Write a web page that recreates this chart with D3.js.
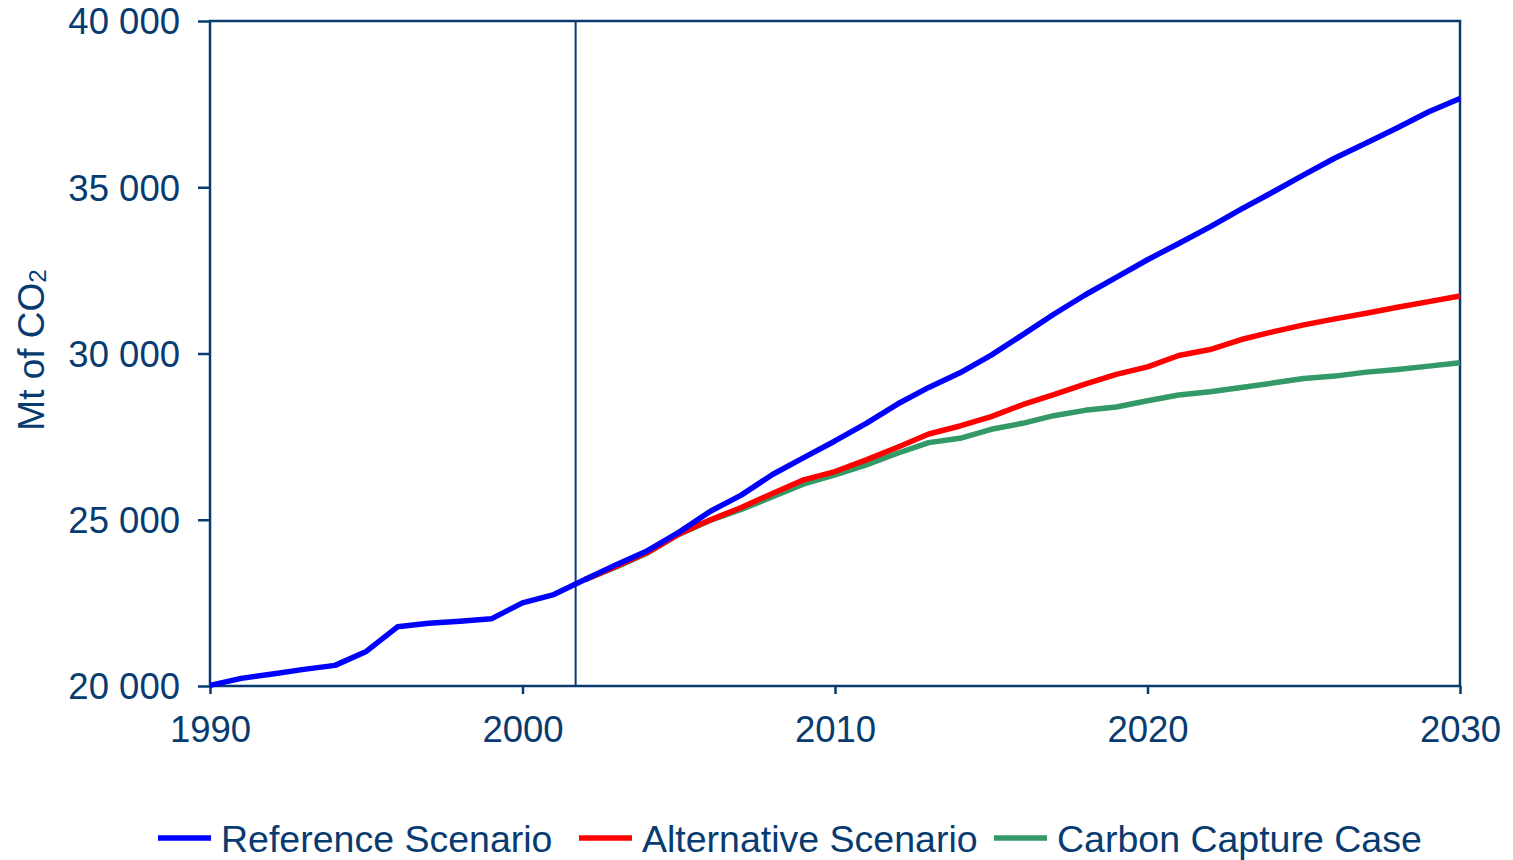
<!DOCTYPE html>
<html>
<head>
<meta charset="utf-8">
<script src="https://cdn.jsdelivr.net/npm/d3@7"></script>
<style>
body { margin: 0; background: #fff; }
text { font-family: "Liberation Sans", Arial, sans-serif; }
</style>
</head>
<body>
<div id="chart"></div>
<script>
// years and series (Mt of CO2)
const years = d3.range(1990, 2031);
const yearTicks = [1990, 2000, 2010, 2020, 2030];
const valueTicks = [20000, 25000, 30000, 35000, 40000];

const referenceScenario = [
    20020, 20230, 20360, 20500, 20620, 21040, 21780, 21890, 21950, 22020,
    22500, 22750, 23200, 23650, 24070, 24620, 25250, 25740, 26360, 26870,
    27370, 27900, 28480, 28980, 29420, 29950, 30560, 31180, 31760, 32290,
    32820, 33310, 33810, 34340, 34850, 35370, 35880, 36330, 36790, 37270,
    37670
];
// projections start in 2002
const projStart = 2002;
const alternativeScenario = [
    23200, 23600, 24020, 24570, 24990, 25370, 25790, 26200,
    26450, 26800, 27180, 27580, 27820, 28100, 28460, 28760, 29080, 29370,
    29600, 29940, 30120, 30420, 30650, 30860, 31040, 31210, 31390, 31560,
    31730
];
const carbonCapture = [
    23200, 23580, 24000, 24560, 24980, 25310, 25690, 26080,
    26350, 26650, 27000, 27320, 27450, 27720, 27900, 28130, 28290, 28390,
    28580, 28750, 28850, 28980, 29110, 29250, 29320, 29440, 29520, 29620,
    29720
];
const baseYearMarker = 2001.7;

const seriesNames = ["Reference Scenario", "Alternative Scenario", "Carbon Capture Case"];
const seriesColors = ["#0000ff", "#ff0000", "#339966"];

const navy = "#083b6f";

const svg = d3.select("#chart").append("svg")
    .attr("width", 1513)
    .attr("height", 860);

const margin = { top: 21, right: 53, bottom: 174, left: 210 },
      width = 1513 - margin.left - margin.right,
      height = 860 - margin.top - margin.bottom;

const g = svg.append("g")
    .attr("transform", `translate(${margin.left},${margin.top})`);

const x = d3.scaleLinear().domain([1990, 2030]).range([0, width]);
const y = d3.scaleLinear().domain([20000, 40000]).range([height, 0]);

// frame
g.append("rect")
    .attr("width", width)
    .attr("height", height)
    .attr("fill", "none")
    .attr("stroke", navy)
    .attr("stroke-width", 2.5);

// marker line between history and projection
g.append("line")
    .attr("x1", x(baseYearMarker)).attr("x2", x(baseYearMarker))
    .attr("y1", 0).attr("y2", height)
    .attr("stroke", navy)
    .attr("stroke-width", 2);

const fmt = d => d3.format(",")(d).replace(",", " ");

const yAxis = g.append("g")
    .call(d3.axisLeft(y).tickValues(valueTicks).tickSize(12).tickPadding(18).tickFormat(fmt));
const xAxis = g.append("g")
    .attr("transform", `translate(0,${height})`)
    .call(d3.axisBottom(x).tickValues(yearTicks).tickSize(8).tickPadding(22).tickFormat(d3.format("d")));

[yAxis, xAxis].forEach(a => {
    a.select(".domain").remove();
    a.selectAll(".tick line").attr("stroke", navy).attr("stroke-width", 2.5);
    a.selectAll("text")
        .attr("fill", navy)
        .style("font-size", "36.5px")
        .style("font-family", "'Liberation Sans', Arial, sans-serif");
});
yAxis.selectAll("text").attr("dy", "0.35em");

// y title
const yt = svg.append("text")
    .attr("transform", "translate(44,350) rotate(-90)")
    .attr("text-anchor", "middle")
    .attr("fill", navy)
    .style("font-size", "37px");
yt.append("tspan").text("Mt of CO");
yt.append("tspan").attr("dy", 2).style("font-size", "24px").text("2");

const line = d3.line()
    .x(d => x(d[0]))
    .y(d => y(d[1]));

const seriesData = [
    referenceScenario.map((v, i) => [years[i], v]),
    alternativeScenario.map((v, i) => [projStart + i, v]),
    carbonCapture.map((v, i) => [projStart + i, v])
];

// draw green first so blue sits on top
[2, 1, 0].forEach(i => {
    g.append("path")
        .datum(seriesData[i])
        .attr("fill", "none")
        .attr("stroke", seriesColors[i])
        .attr("stroke-width", 5.5)
        .attr("stroke-linejoin", "round")
        .attr("d", line);
});

// legend
const legendX = [158, 579, 994];
const legend = svg.append("g");
seriesNames.forEach((name, i) => {
    const lg = legend.append("g").attr("transform", `translate(${legendX[i]},838)`);
    lg.append("line")
        .attr("x1", 0).attr("x2", 53)
        .attr("stroke", seriesColors[i])
        .attr("stroke-width", 5.5);
    lg.append("text")
        .attr("x", 63)
        .attr("y", 14)
        .attr("fill", navy)
        .style("font-size", "37.5px")
        .text(name);
});
</script>
</body>
</html>
